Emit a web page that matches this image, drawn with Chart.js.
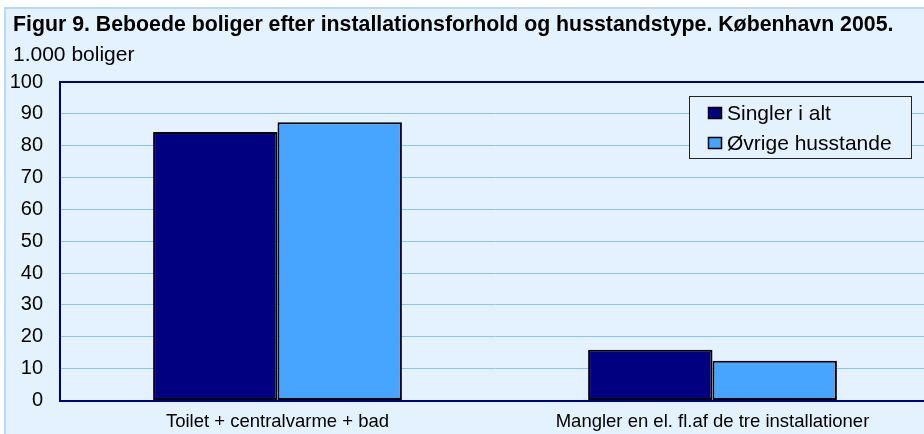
<!DOCTYPE html>
<html>
<head>
<meta charset="utf-8">
<script src="https://cdn.jsdelivr.net/npm/chart.js@4.4.1/dist/chart.umd.min.js"></script>
<style>
html,body{margin:0;padding:0;background:#fff;overflow:hidden;width:924px;height:434px}
#panel{position:absolute;left:4px;top:7px;width:940px;height:440px;background:#E4F1FE;border-top:2px solid #B8DAF8;border-left:2px solid #B8DAF8}
#wrap{position:absolute;left:0;top:0;width:932px;height:434px}
</style>
</head>
<body>
<div id="panel"></div>
<div id="wrap"><canvas id="Chart1HTML"></canvas></div>
<script>
// data
const CATEGORIES=['Toilet + centralvarme + bad','Mangler en el. fl.af de tre installationer'];
const SINGLER=[84.3,15.9];
const OEVRIGE=[87.4,12.5];
const SERIES_NAMES=['Singler i alt','Øvrige husstande'];
const Y_MIN=0,Y_MAX=100,Y_STEP=10;
const TITLE='Figur 9. Beboede boliger efter installationsforhold og husstandstype. København 2005.';
const SUBTITLE='1.000 boliger';

const NAVY='#000080',LIGHT='#47A4FF',GRID='#8CC4F6';
const FONT='"Liberation Sans", Arial, sans-serif';

// title + subtitle at top-left
const titlePlugin={id:'titles',afterDraw(c){
const ctx=c.ctx;ctx.save();ctx.fillStyle='#000';ctx.textBaseline='alphabetic';ctx.textAlign='left';
ctx.font='bold 21.3px '+FONT;ctx.fillText(TITLE,13,31);
ctx.font='21px '+FONT;ctx.fillText(SUBTITLE,13,61);
ctx.restore();}}

// legend box inside the plot
const legendPlugin={id:'boxLegend',afterDraw(c){
const ctx=c.ctx;ctx.save();
const x=689.5,y=96.5,w=222,h=62;
ctx.fillStyle='#E4F1FE';ctx.fillRect(x,y,w,h);
ctx.strokeStyle='#222';ctx.lineWidth=1;ctx.strokeRect(x,y,w,h);
ctx.font='21px '+FONT;ctx.textBaseline='alphabetic';
c.data.datasets.forEach((d,i)=>{
const ry=107+i*30;
ctx.fillStyle=d.backgroundColor;ctx.fillRect(708,ry,14,12);
ctx.strokeStyle='#000';ctx.lineWidth=1.5;ctx.strokeRect(708.5,ry+0.5,13,11);
ctx.fillStyle='#000';ctx.fillText(d.label,727,ry+12.5);
});
ctx.restore();}}

let Chart1=new Chart(document.getElementById('Chart1HTML'),{
type:'bar',
data:{labels:CATEGORIES,datasets:[
{label:SERIES_NAMES[0],data:SINGLER,backgroundColor:NAVY,borderColor:'#000',borderWidth:2,borderSkipped:false},
{label:SERIES_NAMES[1],data:OEVRIGE,backgroundColor:LIGHT,borderColor:'#000',borderWidth:2,borderSkipped:false}]},
options:{
responsive:true,maintainAspectRatio:false,animation:false,
layout:{padding:{top:82,left:0,right:2,bottom:0}},
plugins:{legend:{display:false},title:{display:false},tooltip:{enabled:false}},
datasets:{bar:{barPercentage:1,categoryPercentage:0.572}},
scales:{
x:{grid:{display:false,drawTicks:false},border:{color:NAVY,width:2},
ticks:{color:'#000',font:{family:FONT,size:18.5},padding:10,maxRotation:0},
afterFit(s){s.height=33.5}},
y:{min:Y_MIN,max:Y_MAX,
grid:{drawTicks:false,color:(x)=>x.tick.value===Y_MAX?NAVY:(x.tick.value===Y_MIN?'rgba(0,0,0,0)':GRID),lineWidth:(x)=>x.tick.value===Y_MAX?2:1},
border:{color:NAVY,width:2},
ticks:{stepSize:Y_STEP,color:'#000',font:{family:FONT,size:20},padding:17},
afterFit(s){s.width=60}}
}},
plugins:[titlePlugin,legendPlugin]
});
</script>
</body>
</html>
